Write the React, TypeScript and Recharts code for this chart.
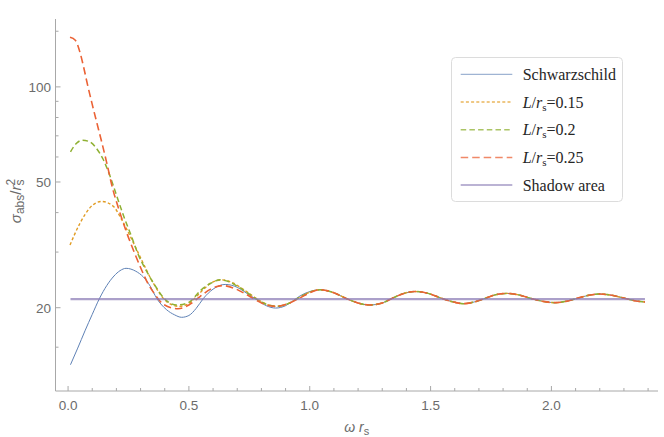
import { Legend, Line, LineChart, XAxis, YAxis } from "recharts";

// layout of the plot frame
const WIDTH = 664;
const HEIGHT = 437;
const PLOT_LEFT = 55.5;
const PLOT_TOP = 19;
const PLOT_RIGHT = 658;
const PLOT_BOTTOM = 391;

const X_DOMAIN = [-0.052, 2.441];
const Y_DOMAIN = [10.9, 164];

const xTicks = [
  0, 0.1, 0.2, 0.3, 0.4, 0.5, 0.6, 0.7, 0.8, 0.9, 1, 1.1, 1.2, 1.3, 1.4, 1.5,
  1.6, 1.7, 1.8, 1.9, 2, 2.1, 2.2, 2.3, 2.4,
];
const xMajor = [0, 0.5, 1, 1.5, 2];
const yTicks = [15, 20, 30, 40, 50, 60, 70, 80, 90, 100, 150];
const yMajor = [20, 50, 100];

// Schwarzschild
const schwX = [
  0.01, 0.04, 0.07, 0.1, 0.13, 0.16, 0.19, 0.215, 0.24, 0.28, 0.312, 0.34,
  0.367, 0.408, 0.44, 0.47, 0.5, 0.53, 0.56, 0.6, 0.65, 0.7, 0.725, 0.76,
  0.781, 0.82, 0.859, 0.9, 0.93, 0.96, 1.0,
];
const schwY = [
  13.2, 14.9, 16.9, 19.05, 21.4, 23.5, 25.2, 26.2, 26.65, 26.1, 25.0, 23.4,
  21.4, 19.7, 19.0, 18.65, 18.9, 19.9, 21.4, 22.9, 23.7, 23.2, 22.6, 21.7,
  21.2, 20.3, 19.95, 20.3, 21.0, 21.8, 22.5,
];

// L/rs = 0.15
const l15X = [
  0.008, 0.05, 0.09, 0.139, 0.187, 0.222, 0.257, 0.298, 0.353, 0.408, 0.46,
  0.5, 0.546, 0.59, 0.636, 0.68, 0.72, 0.76, 0.8, 0.86, 0.91, 0.96, 1.0,
];
const l15Y = [
  31.6, 37.1, 41.4, 43.4, 41.9, 38.0, 33.7, 29.0, 23.9, 20.9, 20.2, 20.6, 22.3,
  23.9, 24.5, 24.0, 23.0, 21.9, 20.9, 20.2, 20.6, 21.6, 22.4,
];

// L/rs = 0.2
const l20X = [
  0.01, 0.035, 0.06, 0.09, 0.12, 0.145, 0.174, 0.2, 0.23, 0.26, 0.29, 0.326,
  0.36, 0.4, 0.45, 0.5, 0.546, 0.59, 0.63, 0.67, 0.712, 0.75, 0.78, 0.82,
  0.866, 0.91, 0.96, 1.0,
];
const l20Y = [
  62.3, 66.3, 67.8, 67.0, 63.5, 59.0, 52.1, 45.5, 39.0, 34.0, 29.5, 26.0, 23.5,
  21.3, 20.4, 20.8, 22.6, 23.9, 24.5, 24.1, 23.1, 22.1, 21.3, 20.5, 20.2, 20.6,
  21.6, 22.4,
];

// L/rs = 0.25
const l25X = [
  0.008, 0.03, 0.05, 0.065, 0.08, 0.1, 0.12, 0.14, 0.16, 0.185, 0.21, 0.24,
  0.275, 0.3, 0.33, 0.36, 0.395, 0.455, 0.5, 0.546, 0.59, 0.64, 0.69, 0.73,
  0.78, 0.82, 0.86, 0.91, 0.96, 1.0,
];
const l25Y = [
  143.5, 140.5, 128, 115, 102, 88, 76.5, 66.5, 57.5, 47.5, 41.0, 35.0, 29.8,
  26.8, 23.9, 22.0, 20.5, 19.85, 20.4, 21.7, 22.9, 23.5, 23.0, 22.2, 21.1,
  20.4, 20.2, 20.6, 21.5, 22.3,
];

// past omega rs ~ 1 the four curves lie on top of each other
const tailX = [
  1.043, 1.1, 1.15, 1.2, 1.247, 1.3, 1.34, 1.39, 1.436, 1.49, 1.54, 1.59,
  1.636, 1.68, 1.725, 1.77, 1.815, 1.86, 1.915, 1.965, 2.015, 2.06, 2.11,
  2.155, 2.2, 2.25, 2.3, 2.345, 2.387,
];
const tailY = [
  22.8, 22.3, 21.4, 20.7, 20.4, 20.7, 21.4, 22.2, 22.5, 22.2, 21.5, 20.9, 20.6,
  20.85, 21.4, 22.0, 22.2, 22.0, 21.4, 20.95, 20.75, 20.95, 21.45, 21.9, 22.1,
  21.9, 21.45, 21.05, 20.85,
];

const shadowX = [0.01, 2.387];
const shadowY = [21.3, 21.3];

const toPoints = (xs: number[], ys: number[]) =>
  xs.map((x, i) => ({ x, y: ys[i] }));

const FRAME = "#a8a8a8";
const TICK_TEXT = "#6b6b6b";
const SANS = "'Liberation Sans', Arial, sans-serif";
const SERIF = "'Liberation Serif', 'Times New Roman', serif";

const Lrs = (v: string) => (
  <>
    <tspan fontStyle="italic">L</tspan>/<tspan fontStyle="italic">r</tspan>
    <tspan fontSize={11} dy={3}>
      s
    </tspan>
    <tspan dy={-3}>={v}</tspan>
  </>
);

const SERIES = [
  {
    key: "schw",
    name: "Schwarzschild",
    label: <>Schwarzschild</>,
    data: toPoints([...schwX, ...tailX], [...schwY, ...tailY]),
    color: "#5E81B5",
    width: 1,
    dash: undefined as string | undefined,
    opacity: 1,
  },
  {
    key: "l15",
    name: "L/rs=0.15",
    label: Lrs("0.15"),
    data: toPoints([...l15X, ...tailX], [...l15Y, ...tailY]),
    color: "#E19C24",
    width: 1.4,
    dash: "3 2.2",
    opacity: 1,
  },
  {
    key: "l20",
    name: "L/rs=0.2",
    label: Lrs("0.2"),
    data: toPoints([...l20X, ...tailX], [...l20Y, ...tailY]),
    color: "#8FB032",
    width: 1.5,
    dash: "5.5 3.2",
    opacity: 1,
  },
  {
    key: "l25",
    name: "L/rs=0.25",
    label: Lrs("0.25"),
    data: toPoints([...l25X, ...tailX], [...l25Y, ...tailY]),
    color: "#EB6235",
    width: 1.6,
    dash: "7.5 4",
    opacity: 1,
  },
  {
    key: "shadow",
    name: "Shadow area",
    label: <>Shadow area</>,
    data: toPoints(shadowX, shadowY),
    color: "#8778B3",
    width: 2.4,
    dash: undefined,
    opacity: 0.7,
  },
];

const isMajor = (v: number, majors: number[]) =>
  majors.some((m) => Math.abs(m - v) < 1e-6);

// ticks point into the frame, as in the reference
const BottomTick = (props: any) => {
  const { x, y, payload } = props;
  const major = isMajor(payload.value, xMajor);
  return (
    <g>
      <line x1={x} x2={x} y1={y} y2={y - (major ? 5 : 3)} stroke={FRAME} />
      {major && (
        <text
          x={x}
          y={y + 18.5}
          textAnchor="middle"
          fontFamily={SANS}
          fontSize={13.5}
          fill={TICK_TEXT}
        >
          {payload.value.toFixed(1)}
        </text>
      )}
    </g>
  );
};

const TopTick = (props: any) => {
  const { x, y, payload } = props;
  const major = isMajor(payload.value, xMajor);
  return <line x1={x} x2={x} y1={y} y2={y + (major ? 5 : 3)} stroke={FRAME} />;
};

const LeftTick = (props: any) => {
  const { x, y, payload } = props;
  const major = isMajor(payload.value, yMajor);
  return (
    <g>
      <line x1={x} x2={x + (major ? 5 : 3)} y1={y} y2={y} stroke={FRAME} />
      {major && (
        <text
          x={x - 4.5}
          y={y + 5.5}
          textAnchor="end"
          fontFamily={SANS}
          fontSize={13.5}
          fill={TICK_TEXT}
        >
          {payload.value}
        </text>
      )}
    </g>
  );
};

const RightTick = (props: any) => {
  const { x, y, payload } = props;
  const major = isMajor(payload.value, yMajor);
  return <line x1={x} x2={x - (major ? 5 : 3)} y1={y} y2={y} stroke={FRAME} />;
};

const renderTitle = () => (
  <text
    x={(PLOT_LEFT + PLOT_RIGHT) / 2}
    y={15}
    textAnchor="middle"
    fontFamily={SERIF}
    fontSize={16}
    fill="#5a5a5a"
  >
    Total absorption cross section with <tspan fontStyle="italic">N</tspan>=20
  </text>
);

const renderXLabel = () => (
  <text
    x={(PLOT_LEFT + PLOT_RIGHT) / 2}
    y={432}
    textAnchor="middle"
    fontFamily={SANS}
    fontSize={14}
    fill={TICK_TEXT}
  >
    <tspan fontStyle="italic">ω r</tspan>
    <tspan fontSize={11} dy={3}>
      s
    </tspan>
  </text>
);

const renderYLabel = () => {
  const cx = 21;
  const cy = (PLOT_TOP + PLOT_BOTTOM) / 2 - 4;
  return (
    <text
      x={cx}
      y={cy}
      transform={`rotate(-90 ${cx} ${cy})`}
      textAnchor="middle"
      fontFamily={SANS}
      fontSize={15}
      fill={TICK_TEXT}
    >
      <tspan fontStyle="italic">σ</tspan>
      <tspan fontSize={12} dy={3}>
        abs
      </tspan>
      <tspan dy={-3}>/</tspan>
      <tspan fontStyle="italic">r</tspan>
      <tspan fontSize={12} dy={3}>
        s
      </tspan>
      <tspan fontSize={12} dx={-6} dy={-9}>
        2
      </tspan>
    </text>
  );
};

const LegendBox = () => (
  <svg width={172} height={145} style={{ display: "block" }}>
    <rect
      x={0.5}
      y={0.5}
      width={171}
      height={144}
      rx={4}
      fill="#fff"
      stroke="#dcdcdc"
    />
    {SERIES.map((s, i) => {
      const cy = 17.3 + i * 27.7;
      return (
        <g key={s.key}>
          <line
            x1={9.7}
            x2={61.3}
            y1={cy}
            y2={cy}
            stroke={s.color}
            strokeWidth={Math.min(s.width, 1.5)}
            strokeDasharray={s.dash}
            strokeOpacity={0.75}
          />
          <text
            x={71.7}
            y={cy + 5.5}
            fontFamily={SERIF}
            fontSize={16}
            fill="#262626"
          >
            {s.label}
          </text>
        </g>
      );
    })}
  </svg>
);

export default function App() {
  return (
    <div
      style={{
        position: "absolute",
        left: 0,
        top: 0,
        width: WIDTH,
        height: HEIGHT,
        background: "#fff",
      }}
    >
      <LineChart
        width={WIDTH}
        height={HEIGHT}
        margin={{ top: PLOT_TOP, right: WIDTH - PLOT_RIGHT, bottom: 0, left: 0 }}
      >
        <XAxis
          xAxisId={0}
          dataKey="x"
          type="number"
          domain={X_DOMAIN}
          allowDataOverflow
          ticks={xTicks}
          interval={0}
          tickSize={0}
          tickMargin={0}
          tick={<BottomTick />}
          height={HEIGHT - PLOT_BOTTOM}
          axisLine={{ stroke: FRAME }}
          label={renderXLabel}
        />
        <XAxis
          xAxisId="top"
          orientation="top"
          dataKey="x"
          type="number"
          domain={X_DOMAIN}
          allowDataOverflow
          ticks={xTicks}
          interval={0}
          tickSize={0}
          tickMargin={0}
          tick={<TopTick />}
          height={0}
          axisLine={{ stroke: FRAME }}
          label={renderTitle}
        />
        <YAxis
          yAxisId={0}
          dataKey="y"
          type="number"
          scale="log"
          domain={Y_DOMAIN}
          allowDataOverflow
          ticks={yTicks}
          interval={0}
          tickSize={0}
          tickMargin={0}
          tick={<LeftTick />}
          width={PLOT_LEFT}
          axisLine={{ stroke: FRAME }}
          label={renderYLabel}
        />
        <YAxis
          yAxisId="right"
          orientation="right"
          type="number"
          scale="log"
          domain={Y_DOMAIN}
          allowDataOverflow
          ticks={yTicks}
          interval={0}
          tickSize={0}
          tickMargin={0}
          tick={<RightTick />}
          width={0}
          axisLine={{ stroke: FRAME }}
        />
        {SERIES.map((s) => (
          <Line
            key={s.key}
            name={s.name}
            data={s.data}
            dataKey="y"
            type="monotone"
            stroke={s.color}
            strokeWidth={s.width}
            strokeDasharray={s.dash}
            strokeOpacity={s.opacity}
            dot={false}
            activeDot={false}
            isAnimationActive={false}
          />
        ))}
        <Legend
          layout="vertical"
          align="center"
          verticalAlign="middle"
          content={() => <LegendBox />}
          wrapperStyle={{ left: 451, top: 57, width: 172, height: 145 }}
        />
      </LineChart>
    </div>
  );
}
